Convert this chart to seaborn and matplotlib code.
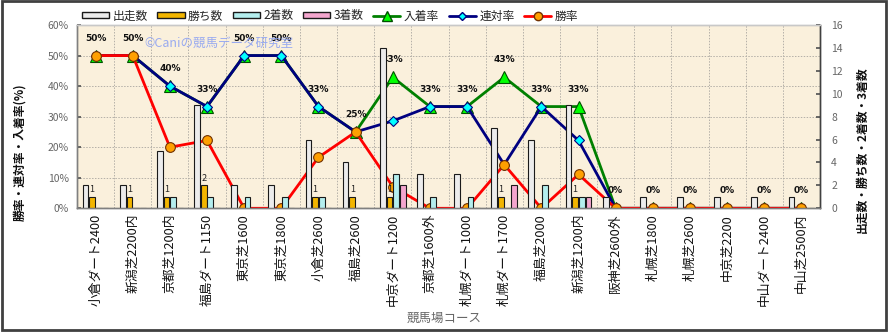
import numpy as np
import pandas as pd
import matplotlib
matplotlib.use("Agg")
import matplotlib.pyplot as plt
import seaborn as sns
from matplotlib.patches import Rectangle, Patch
from matplotlib.lines import Line2D

# ---------------- data ----------------
courses = ["小倉ダート2400", "新潟芝2200内", "京都芝1200内", "福島ダート1150", "東京芝1600",
           "東京芝1800", "小倉芝2600", "福島芝2600", "中京ダート1200", "京都芝1600外",
           "札幌ダート1000", "札幌ダート1700", "福島芝2000", "新潟芝1200内", "阪神芝2600外",
           "札幌芝1800", "札幌芝2600", "中京芝2200", "中山ダート2400", "中山芝2500内"]
starts  = [2, 2, 5, 9, 2, 2, 6, 4, 14, 3, 3, 7, 6, 9, 1, 1, 1, 1, 1, 1]
wins    = [1, 1, 1, 2, 0, 0, 1, 1, 1, 0, 0, 1, 0, 1, 0, 0, 0, 0, 0, 0]
seconds = [0, 0, 1, 1, 1, 1, 1, 0, 3, 1, 1, 0, 2, 1, 0, 0, 0, 0, 0, 0]
thirds  = [0, 0, 0, 0, 0, 0, 0, 0, 2, 0, 0, 2, 0, 1, 0, 0, 0, 0, 0, 0]
place_rate  = [50, 50, 40, 33.3, 50, 50, 33.3, 25, 42.9, 33.3, 33.3, 42.9, 33.3, 33.3, 0, 0, 0, 0, 0, 0]
rentai_rate = [50, 50, 40, 33.3, 50, 50, 33.3, 25, 28.6, 33.3, 33.3, 14.3, 33.3, 22.2, 0, 0, 0, 0, 0, 0]
win_rate    = [50, 50, 20, 22.2, 0, 0, 16.7, 25, 7.1, 0, 0, 14.3, 0, 11.1, 0, 0, 0, 0, 0, 0]
place_labels = ["50%", "50%", "40%", "33%", "50%", "50%", "33%", "25%", "43%", "33%",
                "33%", "43%", "33%", "33%", "0%", "0%", "0%", "0%", "0%", "0%"]
bar_series = ["出走数", "勝ち数", "2着数", "3着数"]
line_series = ["入着率", "連対率", "勝率"]
x_label = "競馬場コース"
left_label = "勝率・連対率・入着率(%)"
right_label = "出走数・勝ち数・2着数・3着数"
watermark = "©Caniの競馬データ研究室"

# ---------------- styling ----------------
sns.set_theme(style="white")
plt.rcParams["font.family"] = ["Noto Sans CJK JP", "DejaVu Sans"]

bar_colors = ["#ECECEC", "#F2B500", "#B4EEEE", "#F4A6CE"]
line_color = ["#008000", "#000080", "#FF0000"]
mk_face = ["#00FF00", "#00FFFF", "#FFA000"]
mk_edge = ["#005000", "#000080", "#703000"]
mk_shape = ["^", "D", "o"]
mk_size = [8, 5.5, 7]

n = len(courses)
fig = plt.figure(figsize=(8.89, 3.32), dpi=100)
fig.patch.set_facecolor("white")
ax = fig.add_axes([77 / 889, 1 - 208.3 / 332, (820 - 77) / 889, (208.3 - 25) / 332])
ax.set_facecolor("#FAF0DC")
ax2 = ax.twinx()

# bars (secondary axis, drawn above lines)
df = pd.DataFrame({
    "course": courses * 4,
    "series": np.repeat(bar_series, n),
    "count": starts + wins + seconds + thirds,
})
sns.barplot(data=df, x="course", y="count", hue="series", order=courses,
            hue_order=bar_series, palette=bar_colors, width=0.72, gap=0.14,
            edgecolor="#1A1A1A", linewidth=0.8, ax=ax2, legend=False, saturation=1)
ax2.bar_label(ax2.containers[1], labels=[str(w) if w else "" for w in wins],
              padding=2, fontsize=6.5, color="#222222")

# lines (primary axis)
xpos = np.arange(n)
for i, (name, vals) in enumerate(zip(line_series, [place_rate, rentai_rate, win_rate])):
    sns.lineplot(x=xpos, y=vals, ax=ax, color=line_color[i], linewidth=2,
                 marker=mk_shape[i], markersize=mk_size[i],
                 markerfacecolor=mk_face[i], markeredgecolor=mk_edge[i],
                 markeredgewidth=0.8, legend=False, zorder=3 + i)

for i, (v, lbl) in enumerate(zip(place_rate, place_labels)):
    ax.annotate(lbl, (i, v), xytext=(0, 12.5), textcoords="offset points",
                ha="center", va="center", fontsize=6.5, fontweight="bold",
                color="#111111", family="DejaVu Sans", zorder=6)

# axes
ax.set_xlim(-0.5, n - 0.5)
ax.set_ylim(0, 60)
ax2.set_ylim(0, 16)
ax.set_yticks(np.arange(0, 61, 10))
ax.set_yticklabels([f"{v}%" for v in range(0, 61, 10)])
ax2.set_yticks(np.arange(0, 17, 2))
ax.set_xticks(xpos)
ax.set_xticklabels(courses, rotation=90, fontsize=9.2)
ax.set_xticks(np.arange(0.5, n - 1, 1), minor=True)
ax.tick_params(axis="x", which="both", length=0, pad=4, labelcolor="#111111")
ax.tick_params(axis="y", direction="in", length=3, labelsize=7.5, labelcolor="#666666",
               color="#555555", pad=6)
ax2.tick_params(axis="y", direction="in", length=3, labelsize=7.5, labelcolor="#666666",
                color="#555555", pad=8)
ax.set_xlabel("")
ax.set_ylabel("")
ax2.set_xlabel("")
ax2.set_ylabel("")

ax.grid(which="major", axis="y", ls=(0, (1.5, 1.5)), color="#B4B0A8", lw=0.7)
ax.grid(which="minor", axis="x", ls=(0, (1.5, 1.5)), color="#B4B0A8", lw=0.7)
ax.grid(which="major", axis="x", visible=False)
ax2.grid(False)
ax.set_axisbelow(True)

for a in (ax, ax2):
    a.spines["top"].set_color("#C8C8C8")
    a.spines["left"].set_color("#808080")
    a.spines["bottom"].set_color("#808080")
    a.spines["right"].set_color("#404040")
    for s in a.spines.values():
        s.set_linewidth(1.0)

# texts
fig.text(20 / 889, 1 - 152 / 332, left_label, rotation=90, ha="center", va="center",
         fontsize=8.5, fontweight="bold", color="#111111")
fig.text(862 / 889, 1 - 150 / 332, right_label, rotation=90, ha="center", va="center",
         fontsize=8.5, fontweight="bold", color="#111111")
fig.text(444 / 889, 1 - 318 / 332, x_label, ha="center", va="center",
         fontsize=9, color="#666666")
fig.text(219 / 889, 1 - 43 / 332, watermark, ha="center", va="center",
         fontsize=9, color="#8FA3F2", alpha=0.9, zorder=10)

# legend
handles = [Patch(facecolor=bar_colors[k], edgecolor="#1A1A1A", linewidth=1.0) for k in range(4)]
handles += [Line2D([0], [0], color=line_color[k], lw=2, marker=mk_shape[k],
                   markersize=mk_size[k] - 1, markerfacecolor=mk_face[k],
                   markeredgecolor=mk_edge[k]) for k in range(3)]
fig.legend(handles, bar_series + line_series, ncol=7, loc="center left",
           bbox_to_anchor=(82 / 889, 1 - 16 / 332), frameon=False, fontsize=8.5,
           handlelength=2.3, handleheight=0.45, handletextpad=0.3, columnspacing=0.8,
           borderaxespad=0, borderpad=0)

# outer border
fig.patches.append(Rectangle((0.002, 0.006), 0.995, 0.991, transform=fig.transFigure,
                             fill=False, edgecolor="#404040", linewidth=2))

fig.savefig("out.png", dpi=100)
